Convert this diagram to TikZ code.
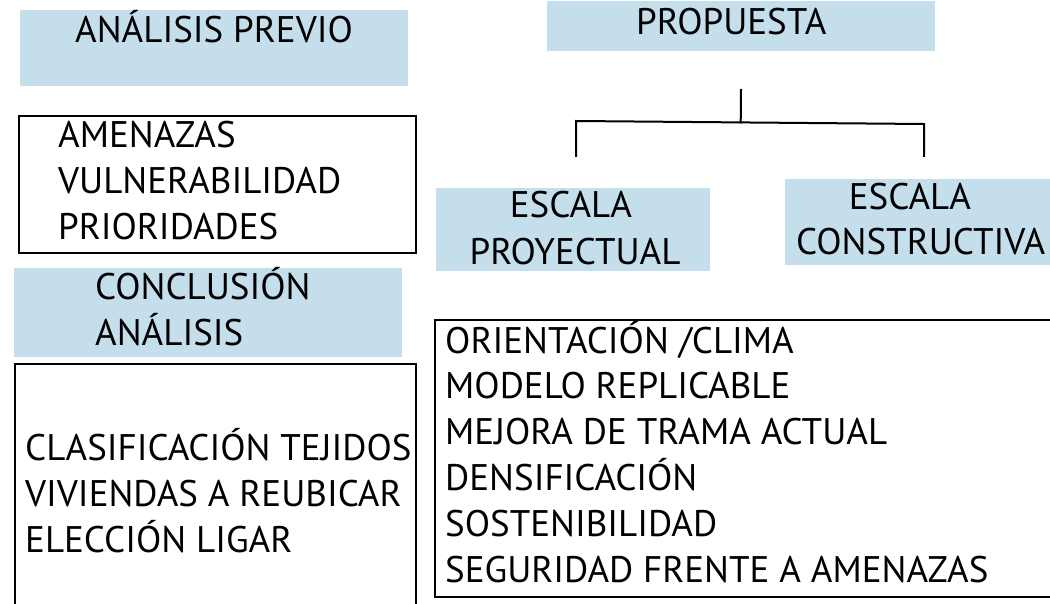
\documentclass[tikz,border=0pt]{standalone}
\usepackage{fontspec}
\setmainfont{PT Sans}
\usepackage{tikz}
\usetikzlibrary{calc,positioning}
\definecolor{paleblue}{RGB}{197,222,236}
\tikzset{%
	bluebox/.style = {fill=paleblue, draw=none, rectangle, inner sep=0pt, outer sep=0pt},
	linebox/.style = {draw=black, line width=2pt, rectangle, inner sep=0pt, outer sep=0pt},
	txt/.style     = {anchor=base west, inner sep=0pt, font=\fontsize{37}{44}\selectfont},
	ctxt/.style    = {txt, anchor=base},
	conn/.style    = {line width=2pt, line cap=rect},
}

\begin{document}
\begin{tikzpicture}[x=1pt,y=-1pt]
		\clip (0,0) rectangle (1050,604);
		
		% analisis previo
		\node[bluebox, minimum width=388, minimum height=76] (prevbox) at (214,48) {};
		\node[txt] (prev) at (75,43) {ANÁLISIS PREVIO};
		
		\node[linebox, minimum width=397, minimum height=137] (amenbox) at (217.5,184.5) {};
		\foreach \t [count=\i] in {AMENAZAS,VULNERABILIDAD,PRIORIDADES} \node[txt] (amen\i) at (58,{148+46*(\i-1)}) {\t};
		
		\node[bluebox, minimum width=388, minimum height=89] (conclbox) at (208,312.5) {};
		\foreach \t [count=\i] in {CONCLUSIÓN,ANÁLISIS} \node[txt] (concl\i) at (95,{300+45*(\i-1)}) {\t};
		
		\node[linebox, minimum width=401, minimum height=260] (clasbox) at (215.5,494) {};
		\foreach \t [count=\i] in {CLASIFICACIÓN TEJIDOS,VIVIENDAS A REUBICAR,ELECCIÓN LIGAR} \node[txt] (clas\i) at (25,{460+46*(\i-1)}) {\t};
		
		% propuesta
		\node[bluebox, minimum width=388, minimum height=50] (propbox) at (741,26.5) {};
		\node[txt] (prop) at (636,35) {PROPUESTA};
		
		\node[bluebox, minimum width=274, minimum height=83] (proybox) at (573,229.5) {};
		\node[ctxt] (proy1) at (571,218) {ESCALA};
		\node[ctxt] (proy2) at (575,265) {PROYECTUAL};
		
		\node[bluebox, minimum width=275, minimum height=86] (consbox) at (922.5,222) {};
		\node[ctxt] (cons1) at (910,210) {ESCALA};
		\node[txt] (cons2) at (796,255) {CONSTRUCTIVA};
		
		\coordinate (stem) at (741,90);
		\coordinate (forkl) at (576,121);
		\coordinate (forkr) at (924,124);
		\coordinate (tipl) at (576,156);
		\coordinate (tipr) at (924,156);
		\draw[conn] (stem) -- ($(forkl)!(stem)!(forkr)$);
		\draw[conn] (tipl) -- (forkl) -- (forkr) -- (tipr);
		
		\node[linebox, minimum width=630, minimum height=277] (critbox) at (750,458.5) {};
		\foreach \t [count=\i] in {ORIENTACIÓN /CLIMA,MODELO REPLICABLE,MEJORA DE TRAMA ACTUAL,DENSIFICACIÓN,SOSTENIBILIDAD,SEGURIDAD FRENTE A AMENAZAS} \node[txt] (crit\i) at (445,{353+45.8*(\i-1)}) {\t};
\end{tikzpicture}
\end{document}
